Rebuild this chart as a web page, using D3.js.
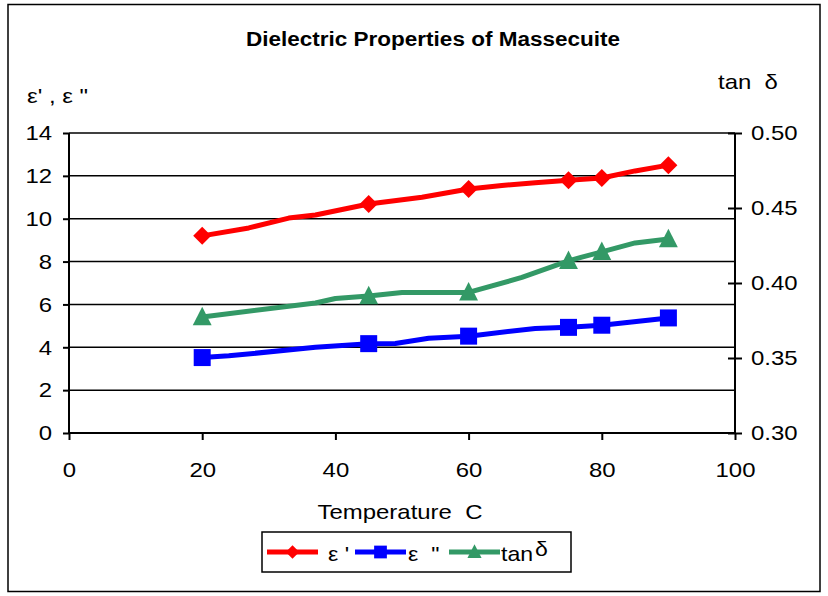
<!DOCTYPE html>
<html>
<head>
<meta charset="utf-8">
<script src="https://cdn.jsdelivr.net/npm/d3@7"></script>
<style>
  html, body { margin: 0; padding: 0; background: #fff; }
  svg text { font-family: "Liberation Sans", Arial, sans-serif; fill: #000; }
</style>
</head>
<body>
<svg id="chart" width="828" height="596"></svg>
<script>
// Temperature (C) of the measured samples (marker positions)
const markerTemps = [20, 45, 60, 75, 80, 90];
// ε' (real permittivity)
const epsRealTemps  = [20, 27, 33, 37, 45, 53, 60, 65, 70, 75, 80, 85, 90];
const epsRealValues = [9.2, 9.57, 10.03, 10.17, 10.69, 11.0, 11.39, 11.55, 11.68, 11.8, 11.9, 12.23, 12.5];
// ε" (loss factor)
const epsImagTemps  = [20, 24, 37, 45, 49, 54, 60, 70, 75, 80, 90];
const epsImagValues = [3.52, 3.6, 4.0, 4.17, 4.18, 4.42, 4.52, 4.88, 4.93, 5.03, 5.37];
// tan δ (loss tangent, right axis)
const tanTemps  = [20, 37, 40, 45, 50, 60, 68, 75, 77, 80, 85, 90];
const tanValues = [0.3773, 0.3867, 0.3897, 0.3913, 0.3937, 0.3937, 0.4037, 0.4147, 0.4173, 0.4207, 0.4267, 0.4293];

const xTicks = [0, 20, 40, 60, 80, 100];
const yLeftTicks = [0, 2, 4, 6, 8, 10, 12, 14];
const yRightTicks = [0.30, 0.35, 0.40, 0.45, 0.50];

const FONT = "Liberation Sans, Arial, sans-serif";
const svg = d3.select("#chart");

// widen glyphs horizontally by a factor, keeping the anchor
function widen(sel, factor) {
  sel.each(function () {
    const w = this.getComputedTextLength();
    d3.select(this).attr("textLength", w * factor).attr("lengthAdjust", "spacingAndGlyphs");
  });
}

// outer frame
svg.append("rect").attr("x", 8).attr("y", 4.5).attr("width", 812).attr("height", 587)
  .attr("fill", "none").attr("stroke", "#000").attr("stroke-width", 1.5);

const plot = { left: 69, right: 735, top: 133, bottom: 433 };

const x = d3.scaleLinear().domain([0, 100]).range([plot.left, plot.right]);
const yL = d3.scaleLinear().domain([0, 14]).range([plot.bottom, plot.top]);
const yR = d3.scaleLinear().domain([0.30, 0.50]).range([plot.bottom, plot.top]);

// horizontal gridlines
svg.append("g").selectAll("line").data(yLeftTicks.filter(d => d > 0)).join("line")
  .attr("x1", plot.left).attr("x2", plot.right)
  .attr("y1", d => yL(d)).attr("y2", d => yL(d))
  .attr("stroke", "#000").attr("stroke-width", 1.5);

// left axis
const gL = svg.append("g").attr("transform", `translate(${plot.left},0)`)
  .call(d3.axisLeft(yL).tickValues(yLeftTicks).tickFormat(d3.format("d")).tickSize(6).tickPadding(11));
// right axis
const gR = svg.append("g").attr("transform", `translate(${plot.right},0)`)
  .call(d3.axisRight(yR).tickValues(yRightTicks).tickFormat(d3.format(".2f")).tickSize(7).tickPadding(9));
gR.selectAll(".tick line").attr("x1", -7);
// bottom axis
const gB = svg.append("g").attr("transform", `translate(0,${plot.bottom})`)
  .call(d3.axisBottom(x).tickValues(xTicks).tickFormat(d3.format("d")).tickSize(7).tickPadding(22));

[gL, gR, gB].forEach(g => {
  g.attr("font-size", null).attr("font-family", null);
  g.select(".domain").attr("stroke", "#000").attr("stroke-width", 2);
  g.selectAll(".tick line").attr("stroke", "#000").attr("stroke-width", 2);
  g.selectAll(".tick text").attr("font-size", 21).attr("font-family", FONT).attr("fill", "#000");
  widen(g.selectAll(".tick text"), 1.14);
});
gL.select(".domain").attr("d", `M0,${plot.top}V${plot.bottom}`);
gR.select(".domain").attr("d", `M0,${plot.top}V${plot.bottom}`);
gB.select(".domain").attr("d", `M${plot.left},0H${plot.right}`);

// series
const series = [
  { name: "ε'", temps: epsRealTemps, values: epsRealValues, y: yL, color: "#ff0000", shape: "diamond" },
  { name: "ε\"", temps: epsImagTemps, values: epsImagValues, y: yL, color: "#0000ff", shape: "square" },
  { name: "tanδ", temps: tanTemps, values: tanValues, y: yR, color: "#339966", shape: "triangle" }
];

function markerPath(shape, s) {
  if (shape === "diamond") return `M0,${-s}L${s},0L0,${s}L${-s},0Z`;
  if (shape === "square") return `M${-s},${-s}H${s}V${s}H${-s}Z`;
  return `M0,${-s * 1.15}L${s * 1.05},${s * 0.9}L${-s * 1.05},${s * 0.9}Z`;
}
const markerSize = { diamond: 9, square: 8.5, triangle: 9 };

function valueAt(s, t) {
  return s.values[s.temps.indexOf(t)];
}

series.forEach(s => {
  const line = d3.line().x(d => x(d[0])).y(d => s.y(d[1]));
  svg.append("path").datum(s.temps.map((t, i) => [t, s.values[i]]))
    .attr("d", line).attr("fill", "none").attr("stroke", s.color)
    .attr("stroke-width", 5).attr("stroke-linejoin", "round");
  svg.append("g").selectAll("path").data(markerTemps).join("path")
    .attr("transform", t => `translate(${x(t)},${s.y(valueAt(s, t))})`)
    .attr("d", markerPath(s.shape, markerSize[s.shape]))
    .attr("fill", s.color);
});

// title and axis titles
const title = svg.append("text").attr("x", 433).attr("y", 46).attr("text-anchor", "middle")
  .attr("font-size", 20).attr("font-weight", "bold").text("Dielectric Properties of Massecuite");
title.attr("textLength", 374).attr("lengthAdjust", "spacingAndGlyphs");

const labels = svg.append("g");
labels.append("text").attr("x", 27).attr("y", 103).attr("font-size", 21)
  .attr("xml:space", "preserve").text("ε' , ε \"");
labels.append("text").attr("x", 718).attr("y", 89).attr("font-size", 21)
  .attr("xml:space", "preserve").text("tan  δ");
labels.append("text").attr("x", 400).attr("y", 519).attr("text-anchor", "middle")
  .attr("font-size", 21).attr("xml:space", "preserve").text("Temperature  C");
widen(labels.selectAll("text"), 1.14);

// legend
const lg = svg.append("g");
lg.append("rect").attr("x", 262).attr("y", 532).attr("width", 309).attr("height", 40)
  .attr("fill", "#fff").attr("stroke", "#000").attr("stroke-width", 1.5);
const legendItems = [
  { s: series[0], x0: 267, x1: 318, tx: 328, label: "ε '" },
  { s: series[1], x0: 355, x1: 406, tx: 408, label: "ε  \"" },
  { s: series[2], x0: 449, x1: 500, tx: 501, label: "tan" }
];
legendItems.forEach(it => {
  lg.append("line").attr("x1", it.x0).attr("x2", it.x1).attr("y1", 552).attr("y2", 552)
    .attr("stroke", it.s.color).attr("stroke-width", 5);
  lg.append("path").attr("transform", `translate(${(it.x0 + it.x1) / 2},552)`)
    .attr("d", markerPath(it.s.shape, markerSize[it.s.shape] * 0.75)).attr("fill", it.s.color);
  lg.append("text").attr("x", it.tx).attr("y", 561).attr("font-size", 21)
    .attr("xml:space", "preserve").text(it.label);
});
lg.append("text").attr("x", 535).attr("y", 556).attr("font-size", 21).text("δ");
widen(lg.selectAll("text"), 1.1);
</script>
</body>
</html>
